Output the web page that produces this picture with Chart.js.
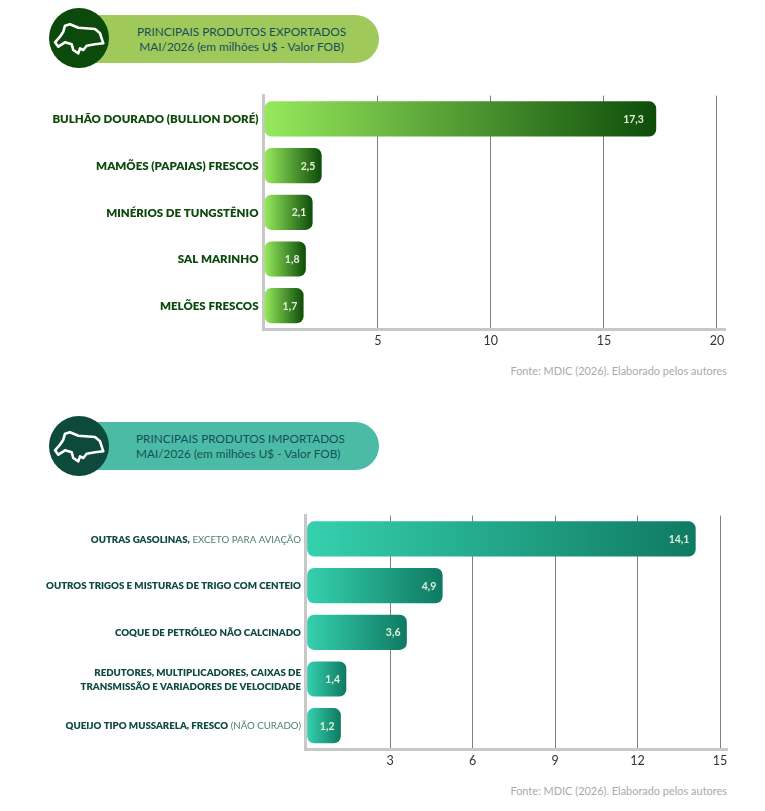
<!DOCTYPE html>
<html lang="pt-BR">
<head>
<meta charset="utf-8">
<title>Principais produtos</title>
<script src="https://cdn.jsdelivr.net/npm/chart.js@4/dist/chart.umd.min.js"></script>
<style>
  html, body { margin: 0; background: #fff; }
  body { position: relative; width: 765px; height: 811px; overflow: hidden; font-family: Lato, sans-serif; }
  canvas { position: absolute; left: 0; }
  .pill { position: absolute; left: 70px; width: 309px; height: 48px; border-radius: 24px; }
  .badge { position: absolute; left: 49px; width: 60px; height: 60px; }
  .title { position: absolute; font-size: 11.8px; line-height: 15px; color: #14505a; white-space: nowrap; }
  .fonte { position: absolute; right: 38px; font-size: 10.95px; color: #aaa; white-space: nowrap; }
</style>
</head>
<body>
<div class="pill" style="top:15px;background:#a0c95c"></div>
<svg class="badge" style="top:8px" viewBox="0 0 60 60"><circle cx="30" cy="30" r="30" fill="#0c4a0c"/><path d="M16 17.7 L21 16.3 L29.3 19.7 L46 21 L51 25.3 L54.3 35.3 L46 36.3 L37.7 37.7 L34.3 42 L31 40.3 L29.3 45.3 L24.3 42 L22.7 36.3 L16 34.3 L9.3 38.7 L6 34.3 L11 28.7 L14.3 23.7 Z" fill="none" stroke="#fff" stroke-width="2.6" stroke-linejoin="round"/></svg>
<div class="title" style="top:24px;left:137px;text-align:center">PRINCIPAIS PRODUTOS EXPORTADOS<br>MAI/2026 (em milhões U$ - Valor FOB)</div>
<canvas id="exportChart" style="top:90px" width="765" height="270"></canvas>
<div class="fonte" style="top:364px">Fonte: MDIC (2026). Elaborado pelos autores</div>

<div class="pill" style="top:422px;background:#4cbba6"></div>
<svg class="badge" style="top:416px" viewBox="0 0 60 60"><circle cx="30" cy="30" r="30" fill="#0e4a3c"/><path d="M16 17.7 L21 16.3 L29.3 19.7 L46 21 L51 25.3 L54.3 35.3 L46 36.3 L37.7 37.7 L34.3 42 L31 40.3 L29.3 45.3 L24.3 42 L22.7 36.3 L16 34.3 L9.3 38.7 L6 34.3 L11 28.7 L14.3 23.7 Z" fill="none" stroke="#fff" stroke-width="2.6" stroke-linejoin="round"/></svg>
<div class="title" style="top:431px;left:136px">PRINCIPAIS PRODUTOS IMPORTADOS<br>MAI/2026 (em milhões U$ - Valor FOB)</div>
<canvas id="importChart" style="top:510px" width="765" height="270"></canvas>
<div class="fonte" style="top:784px">Fonte: MDIC (2026). Elaborado pelos autores</div>

<script>
// dados
const exportLabels = [
  "BULHÃO DOURADO (BULLION DORÉ)",
  "MAMÕES (PAPAIAS) FRESCOS",
  "MINÉRIOS DE TUNGSTÊNIO",
  "SAL MARINHO",
  "MELÕES FRESCOS"
]
const exportValues = [17.3, 2.5, 2.1, 1.8, 1.7]
const exportTicks = [5, 10, 15, 20]

const importLabels = [
  "OUTRAS GASOLINAS,",
  "OUTROS TRIGOS E MISTURAS DE TRIGO COM CENTEIO",
  "COQUE DE PETRÓLEO NÃO CALCINADO",
  ["REDUTORES, MULTIPLICADORES, CAIXAS DE", "TRANSMISSÃO E VARIADORES DE VELOCIDADE"],
  "QUEIJO TIPO MUSSARELA, FRESCO"
]
// parte final do rótulo, em peso leve
const importLabelNotes = [" EXCETO PARA AVIAÇÃO", "", "", "", " (NÃO CURADO)"]
const importValues = [14.1, 4.9, 3.6, 1.4, 1.2]
const importTicks = [3, 6, 9, 12, 15]

const FONT = "Lato"

function makeChart(id, cfg) {
  // rótulos do eixo Y e valores dentro das barras
  const textPlugin = {
    id: "barTexts",
    afterDraw(chart) {
      const ctx = chart.ctx
      const y = chart.scales.y
      const x = chart.scales.x
      ctx.save()
      ctx.textBaseline = "middle"
      cfg.labels.forEach((label, i) => {
        const cy = y.getPixelForValue(i) + 0.5
        const lines = Array.isArray(label) ? label : [label]
        lines.forEach((line, n) => {
          const ly = cy + (n - (lines.length - 1) / 2) * cfg.labelLine
          let right = cfg.labelRight
          const note = (cfg.notes && cfg.notes[i]) || ""
          ctx.textAlign = "right"
          if (note) {
            ctx.font = `400 ${cfg.labelSize}px ${FONT}`
            ctx.fillStyle = cfg.noteColor
            ctx.fillText(note, right, ly)
            right -= ctx.measureText(note).width
          }
          ctx.font = `800 ${cfg.labelSize}px ${FONT}`
          ctx.fillStyle = cfg.labelColor
          ctx.fillText(line, right, ly)
        })
        // na barra longa o valor fica mais afastado da ponta
        const gap = i === 0 && cfg.firstValueGap ? cfg.firstValueGap : 6
        ctx.font = `700 10.5px ${FONT}`
        ctx.fillStyle = "#e4eedd"
        ctx.fillText(String(cfg.values[i]).replace(".", ","), x.getPixelForValue(cfg.values[i]) - gap, cy)
      })
      ctx.restore()
    }
  }

  return new Chart(document.getElementById(id), {
    type: "bar",
    plugins: [textPlugin],
    data: {
      labels: cfg.labels,
      datasets: [{
        data: cfg.values,
        barThickness: 34.5,
        borderRadius: cfg.radius,
        borderSkipped: false,
        backgroundColor(c) {
          const x = c.chart.scales.x
          if (!x || c.raw === undefined) return cfg.colors[0]
          const x0 = x.getPixelForValue(0)
          const x1 = x.getPixelForValue(c.raw)
          // antes do primeiro layout a escala ainda não tem pixels
          if (!Number.isFinite(x0) || !Number.isFinite(x1)) return cfg.colors[0]
          const g = c.chart.ctx.createLinearGradient(x0, 0, x1, 0)
          g.addColorStop(0, cfg.colors[0])
          g.addColorStop(1, cfg.colors[1])
          return g
        }
      }]
    },
    options: {
      indexAxis: "y",
      responsive: false,
      animation: false,
      layout: { padding: { top: 5.6, right: 765 - cfg.axisRight, left: 0, bottom: 0 } },
      plugins: { legend: { display: false }, tooltip: { enabled: false } },
      scales: {
        x: {
          min: cfg.min,
          max: cfg.max,
          afterBuildTicks(scale) { scale.ticks = cfg.ticks.map(v => ({ value: v })) },
          afterFit(scale) { scale.height = 31 },
          grid: { color: "#808080", lineWidth: 1, drawTicks: false },
          border: { color: "#c8c8c8", width: 3 },
          ticks: { color: "#333", padding: 4, font: { family: FONT, size: 12.5 }, maxRotation: 0, autoSkip: false }
        },
        y: {
          afterFit(scale) { scale.width = cfg.axisLeft },
          grid: { display: false },
          border: { color: "#c8c8c8", width: 3 },
          ticks: { display: false }
        }
      }
    }
  })
}

makeChart("exportChart", {
  labels: exportLabels,
  values: exportValues,
  ticks: exportTicks,
  axisLeft: 263,
  axisRight: 725.5,
  min: -0.08,
  max: 20.38,
  radius: 7,
  colors: ["#96e95c", "#0e4d0a"],
  labelRight: 258.5,
  labelSize: 11.5,
  labelLine: 14,
  labelColor: "#0c4a0c",
  firstValueGap: 12
})

makeChart("importChart", {
  labels: importLabels,
  notes: importLabelNotes,
  values: importValues,
  ticks: importTicks,
  axisLeft: 305,
  axisRight: 727,
  min: -0.09,
  max: 15.25,
  radius: 7,
  colors: ["#35d0ae", "#0f7a62"],
  labelRight: 301,
  labelSize: 9.7,
  labelLine: 14,
  labelColor: "#0e4a40",
  noteColor: "#4d7f76"
})
</script>
</body>
</html>
